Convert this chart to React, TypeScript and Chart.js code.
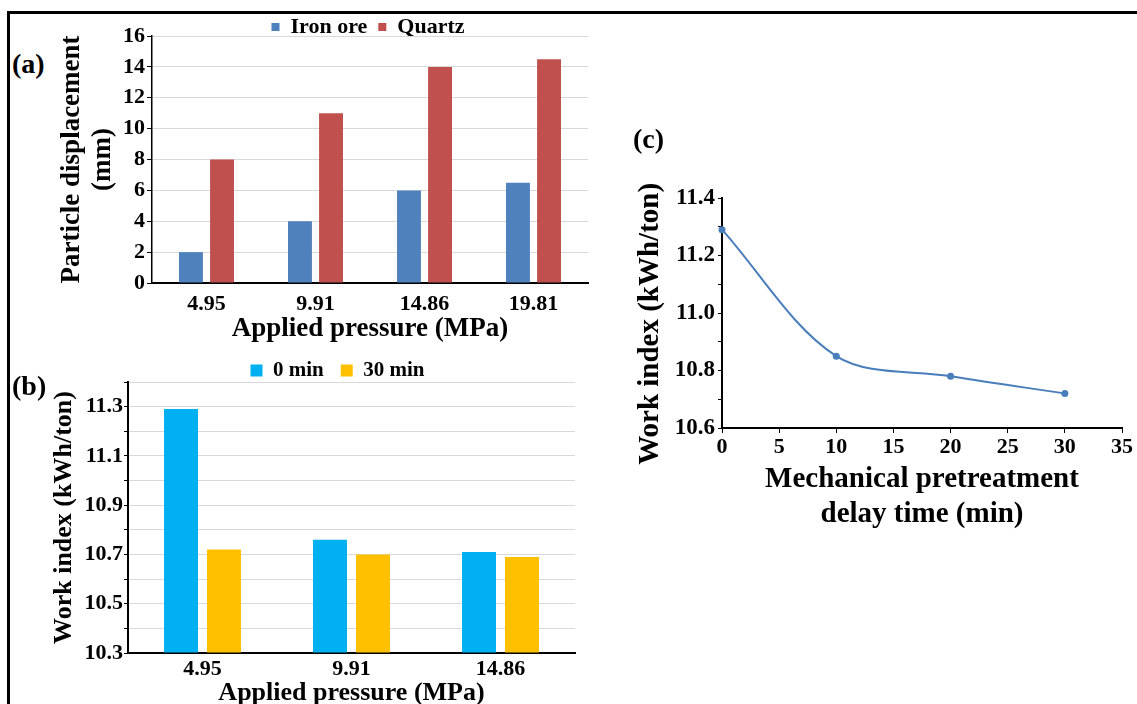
import React, { useEffect, useRef } from 'react';
import { Chart, registerables } from 'chart.js';

Chart.register(...registerables);

const FONT = "'Liberation Serif', 'Times New Roman', serif";

// (a) particle displacement
const pressuresA = ['4.95', '9.91', '14.86', '19.81'];
const ironOre = [2, 4, 6, 6.5];
const quartz = [8, 11, 14, 14.5];
const yMinA = 0;
const yMaxA = 16;
const yStepA = 2;

// (b) work index vs pressure
const pressuresB = ['4.95', '9.91', '14.86'];
const workIndex0 = [11.29, 10.76, 10.71];
const workIndex30 = [10.72, 10.7, 10.69];
const yMinB = 10.3;
const yMaxB = 11.4;
const yStepB = 0.1;

// (c) work index vs delay time
const delayTimes = [0, 10, 20, 30];
const workIndexC = [11.29, 10.85, 10.78, 10.72];
const xMinC = 0;
const xMaxC = 35;
const xStepC = 5;
const yMinC = 10.6;
const yMaxC = 11.4;
const yStepC = 0.1;

const f = (size: number, lineHeight = 1.2) => ({ family: FONT, size, weight: 'bold' as const, lineHeight });

const legendShift = {
  id: 'legendShift',
  afterLayout(chart: any, _args: any, opts: any) {
    const lg = chart.legend;
    if (!lg || !opts) return;
    const dx = opts.dx || 0;
    const dy = opts.dy || 0;
    lg.left += dx;
    lg.right += dx;
    lg.top += dy;
    lg.bottom += dy;
  },
};

const everyOther = (v: any, i: number) => (i % 2 === 0 ? Number(v).toFixed(1) : '');

function configA(): any {
  return {
    type: 'bar',
    data: {
      labels: pressuresA,
      datasets: [
        { label: 'Iron ore', data: ironOre, backgroundColor: '#4F81BD', borderWidth: 0, categoryPercentage: 0.57, barPercentage: 0.77 },
        { label: 'Quartz', data: quartz, backgroundColor: '#C0504D', borderWidth: 0, categoryPercentage: 0.57, barPercentage: 0.77 },
      ],
    },
    options: {
      responsive: false,
      animation: false,
      devicePixelRatio: 1,
      events: [],
      layout: { padding: { left: 0, right: 22, top: 5, bottom: 0 } },
      plugins: {
        tooltip: { enabled: false },
        legend: {
          position: 'top',
          fullSize: false,
          maxHeight: 31,
          labels: { font: f(22), color: '#000', boxWidth: 8, boxHeight: 8, padding: 11 },
        },
        legendShift: { dx: -2, dy: 0 },
      },
      scales: {
        x: {
          grid: { display: false, drawTicks: false },
          border: { color: '#000', width: 2 },
          ticks: { font: f(22), color: '#000', padding: 8 },
          title: { display: true, text: 'Applied pressure (MPa)', font: f(27, 1.15), color: '#000', padding: { top: 0, bottom: 5.5 } },
          afterFit: (s: any) => { s.height = 67; },
        },
        y: {
          min: yMinA,
          max: yMaxA,
          ticks: { stepSize: yStepA, font: f(22), color: '#000', padding: 2 },
          grid: { color: '#d9d9d9', tickColor: '#000', tickLength: 5 },
          border: { color: '#000', width: 1.5 },
          title: { display: true, text: ['Particle displacement', '(mm)'], font: f(27, 1.15), color: '#000', padding: { top: 6.5, bottom: 0 } },
          afterFit: (s: any) => { s.width = 102; },
        },
      },
    },
    plugins: [legendShift],
  };
}

function configB(): any {
  return {
    type: 'bar',
    data: {
      labels: pressuresB,
      datasets: [
        { label: '0 min', data: workIndex0, base: yMinB, backgroundColor: '#00B0F0', borderWidth: 0, categoryPercentage: 0.577, barPercentage: 0.79 },
        { label: '30 min', data: workIndex30, base: yMinB, backgroundColor: '#FFC000', borderWidth: 0, categoryPercentage: 0.577, barPercentage: 0.79 },
      ],
    },
    options: {
      responsive: false,
      animation: false,
      devicePixelRatio: 1,
      events: [],
      layout: { padding: { left: 0, right: 53, top: 3, bottom: 0 } },
      plugins: {
        tooltip: { enabled: false },
        legend: {
          position: 'top',
          fullSize: false,
          maxHeight: 39,
          labels: { font: f(21), color: '#000', boxWidth: 12, boxHeight: 12, padding: 17 },
        },
        legendShift: { dx: -14, dy: 0 },
      },
      scales: {
        x: {
          grid: { display: false, drawTicks: false },
          border: { color: '#000', width: 2 },
          ticks: { font: f(22), color: '#000', padding: 3 },
          title: { display: true, text: 'Applied pressure (MPa)', font: f(26), color: '#000', padding: { top: 0, bottom: 4.4 } },
          afterFit: (s: any) => { s.height = 60; },
        },
        y: {
          min: yMinB,
          max: yMaxB,
          ticks: { stepSize: yStepB, autoSkip: false, maxTicksLimit: 20, font: f(22), color: '#000', padding: 1, callback: everyOther },
          grid: { color: '#d9d9d9', tickColor: '#000', tickLength: 4 },
          border: { color: '#000', width: 2 },
          title: { display: true, text: 'Work index (kWh/ton)', font: f(26), color: '#000', padding: { top: 8.4, bottom: 0 } },
          afterFit: (s: any) => { s.width = 88; },
        },
      },
    },
    plugins: [legendShift],
  };
}

function configC(): any {
  return {
    type: 'line',
    data: {
      datasets: [
        {
          label: 'Work index',
          data: delayTimes.map((x, i) => ({ x, y: workIndexC[i] })),
          borderColor: '#4A7EBB',
          backgroundColor: '#4A7EBB',
          borderWidth: 2,
          pointRadius: 3.5,
          pointBorderWidth: 0,
          tension: 0.33,
          clip: false,
        },
      ],
    },
    options: {
      responsive: false,
      animation: false,
      devicePixelRatio: 1,
      events: [],
      layout: { padding: { left: 0, right: 15, top: 48, bottom: 17 } },
      plugins: { tooltip: { enabled: false }, legend: { display: false } },
      scales: {
        x: {
          type: 'linear',
          min: xMinC,
          max: xMaxC,
          ticks: { stepSize: xStepC, font: f(22), color: '#000', padding: 1 },
          grid: { drawOnChartArea: false, tickLength: 5, tickColor: '#000' },
          border: { color: '#000', width: 2 },
          title: { display: true, text: ['Mechanical pretreatment', 'delay time (min)'], font: f(29, 1.2), color: '#000', padding: { top: 0, bottom: 0.8 } },
          afterFit: (s: any) => { s.height = 105; },
        },
        y: {
          type: 'linear',
          min: yMinC,
          max: yMaxC,
          ticks: { stepSize: yStepC, autoSkip: false, maxTicksLimit: 20, font: f(23), color: '#000', padding: 3, callback: everyOther },
          grid: { drawOnChartArea: false, tickLength: 4, tickColor: '#000' },
          border: { color: '#000', width: 2 },
          title: { display: true, text: 'Work index (kWh/ton)   ', font: f(29), color: '#000', padding: { top: 33.6, bottom: 0 } },
          afterFit: (s: any) => { s.width = 122; },
        },
      },
    },
  };
}

function ChartCanvas({ make, left, top, width, height }: { make: () => any; left: number; top: number; width: number; height: number }) {
  const ref = useRef<HTMLCanvasElement | null>(null);
  useEffect(() => {
    if (!ref.current) return;
    const chart = new Chart(ref.current, make());
    return () => chart.destroy();
  }, []);
  return (
    <canvas
      ref={ref}
      width={width}
      height={height}
      style={{ position: 'absolute', left, top, width, height }}
    />
  );
}

const panelLabel: React.CSSProperties = {
  position: 'absolute',
  fontFamily: FONT,
  fontWeight: 'bold',
  fontSize: 28,
  lineHeight: '28px',
  color: '#000',
};

export default function App() {
  return (
    <div style={{ position: 'absolute', left: 0, top: 0, width: 1137, height: 704, overflow: 'hidden', background: '#fff' }}>
      <div style={{ position: 'absolute', left: 7, top: 11, width: 1140, height: 700, borderTop: '3px solid #000', borderLeft: '3px solid #000' }} />
      <ChartCanvas make={configA} left={50} top={0} width={560} height={350} />
      <ChartCanvas make={configB} left={40} top={340} width={588} height={373} />
      <ChartCanvas make={configC} left={600} top={150} width={537} height={400} />
      <div style={{ ...panelLabel, left: 12, top: 50 }}>(a)</div>
      <div style={{ ...panelLabel, left: 12, top: 372 }}>(b)</div>
      <div style={{ ...panelLabel, left: 633, top: 125 }}>(c)</div>
    </div>
  );
}
